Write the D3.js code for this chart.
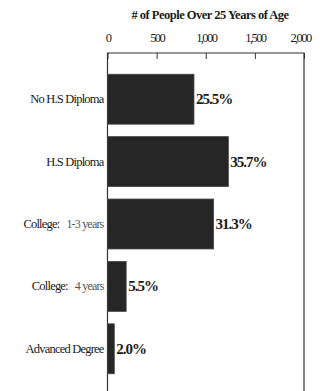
<!DOCTYPE html>
<html>
<head>
<meta charset="utf-8">
<script src="https://cdn.jsdelivr.net/npm/d3@7"></script>
<style>
    body { margin: 0; background: #fff; }
    svg { display: block; }
    .tick text { font-family: "Liberation Serif", "DejaVu Serif", serif; font-size: 12.5px; fill: #1a1a1a; letter-spacing: -1.6px; }
    .tick line { stroke: #333; }
    .cat { font-family: "Liberation Serif", serif; font-size: 12.5px; fill: #1a1a1a; letter-spacing: -0.8px; }
    .pct { font-family: "Liberation Serif", serif; font-size: 15px; font-weight: bold; fill: #1a1a1a; letter-spacing: -1px; }
    .title { font-family: "Liberation Serif", serif; font-size: 12.5px; font-weight: bold; fill: #1a1a1a; letter-spacing: -0.5px; }
</style>
</head>
<body>
<svg id="chart"></svg>
<script>
// education level -> number of people over 25
const categories = ["No H.S Diploma", "H.S Diploma", "College:  1-3 years", "College:  4 years", "Advanced Degree"];
const people = [880, 1230, 1080, 190, 69];
const percents = ["25.5%", "35.7%", "31.3%", "5.5%", "2.0%"];
const tickValues = [0, 500, 1000, 1500, 2000];

const width = 320, height = 391;
const margin = { top: 53, right: 16, left: 107.5 };

const svg = d3.select("#chart")
    .attr("width", width)
    .attr("height", height);

const x = d3.scaleLinear()
    .domain([0, 2000])
    .range([margin.left, width - margin.right]);

const y = d3.scaleBand()
    .domain(categories)
    .range([68, 380])
    .paddingInner(0.2)
    .paddingOuter(0.1);

// title
svg.append("text")
    .attr("class", "title")
    .attr("x", 210)
    .attr("y", 19)
    .attr("text-anchor", "middle")
    .text("# of People Over 25 Years of Age");

// top axis, ticks pointing into the plot
const xAxis = d3.axisTop(x)
    .tickValues(tickValues)
    .tickFormat(d3.format(","))
    .tickSizeInner(-6)
    .tickSizeOuter(0)
    .tickPadding(11);

const axisG = svg.append("g")
    .attr("transform", `translate(0,${margin.top})`)
    .call(xAxis);
axisG.select(".domain").remove();
axisG.selectAll(".tick line").attr("stroke-width", 1);
axisG.selectAll(".tick text").filter(d => d === 2000).attr("dx", -4);

// frame (top, left and right)
const frame = svg.append("g").attr("stroke", "#333").attr("stroke-width", 1.2).attr("fill", "none");
frame.append("path")
    .attr("d", `M${x(0)},${height}V${margin.top}H${x(2000)}V${height}`);

// bars
svg.selectAll(".bar")
    .data(categories)
    .enter().append("rect")
    .attr("class", "bar")
    .attr("x", x(0))
    .attr("y", d => y(d))
    .attr("width", (d, i) => x(people[i]) - x(0))
    .attr("height", y.bandwidth())
    .attr("fill", "#262626")
    .attr("stroke", "#444")
    .attr("stroke-width", 0.8);

// percent labels
svg.selectAll(".pct")
    .data(categories)
    .enter().append("text")
    .attr("class", "pct")
    .attr("x", (d, i) => x(people[i]) + 2)
    .attr("y", d => y(d) + y.bandwidth() / 2 + 5)
    .text((d, i) => percents[i]);

// category labels, the part after the double space is lighter
const cats = svg.selectAll(".cat")
    .data(categories)
    .enter().append("text")
    .attr("class", "cat")
    .attr("x", x(0) - 4)
    .attr("y", d => y(d) + y.bandwidth() / 2 + 4)
    .attr("text-anchor", "end");

cats.each(function(d) {
    const parts = d.split("  ");
    const t = d3.select(this);
    t.append("tspan").text(parts[0]);
    if (parts[1]) {
        t.append("tspan")
            .attr("dx", 7)
            .attr("fill", "#555")
            .style("font-size", "12px")
            .text(parts[1]);
    }
});
</script>
</body>
</html>
